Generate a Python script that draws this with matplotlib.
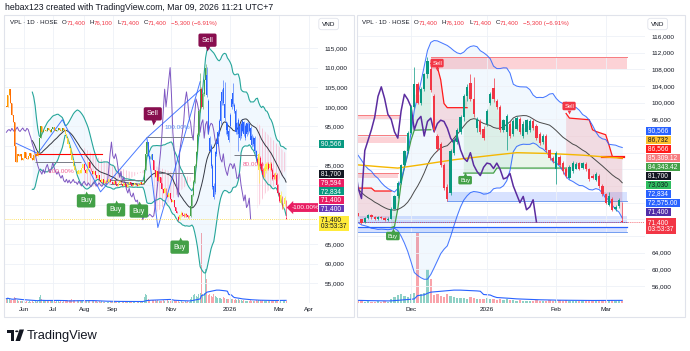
import numpy as np
import pandas as pd
import matplotlib
matplotlib.use("Agg")
import matplotlib.pyplot as plt
from matplotlib import transforms
from matplotlib.patches import Rectangle, Polygon, Circle

plt.rcParams['font.family'] = ['Liberation Sans', 'DejaVu Sans']
plt.rcParams['hatch.linewidth'] = 0.6

# ------------------------------------------------------------------ data
# prices in thousand VND, volume in million shares (daily bars, HOSE calendar)
holidays = ["2025-09-01", "2025-09-02", "2026-01-01", "2026-02-16", "2026-02-17",
            "2026-02-18", "2026-02-19", "2026-02-20"]

early_close = [
    100.0, 103.0, 104.5, 101.0, 98.0, 96.0,
    90.0, 86.0, 88.0,
    87.5, 88.0, 86.5, 87.0, 88.5, 87.0, 86.8, 87.5, 88.2, 87.0, 86.5, 87.8,
    88.0, 87.5, 88.5,
    92.0, 95.0, 93.5, 94.0,
    94.2, 93.8, 94.5, 94.0, 93.6, 94.3, 94.8, 94.0, 93.7, 94.2, 94.6, 94.0, 93.8, 94.5, 94.2,
    93.0, 92.0, 90.5, 89.5, 88.0, 86.5,
    85.0, 84.0, 83.5, 82.8, 84.0, 83.0, 84.5,
    85.3, 84.0, 83.2, 84.2, 85.8, 84.5, 83.5, 82.8, 83.5,
    82.5, 81.8, 82.5, 81.2, 80.8, 81.5, 80.6, 81.3, 80.5, 80.9, 81.5, 80.7,
    80.8, 80.2, 81.0, 80.4, 79.8, 80.5, 81.0, 80.3, 79.9, 80.6, 80.1, 79.6,
    80.2, 80.8, 80.3, 79.8, 80.1, 80.6, 80.0, 79.7, 80.3, 80.9, 80.2, 80.5,
    84.0, 88.0, 91.0, 87.5, 86.8, 88.0, 86.5,
    84.0, 82.0, 83.5, 81.0, 82.0,
    80.5, 79.0, 78.0, 79.2, 77.5, 77.0, 78.0, 76.5, 75.8, 76.2,
    74.5, 73.5, 72.8,
]
early_volume = [
    1.2, 1.5, 1.0, 0.9, 0.8, 0.9, 1.6, 1.4, 0.9,
    0.6, 0.5, 0.6, 0.5, 0.5, 0.4, 0.5, 0.4, 0.5, 0.4, 0.5, 0.4, 0.5, 0.4, 0.6,
    1.8, 2.2, 1.2, 0.9,
    0.7, 0.6, 0.6, 0.5, 0.5, 0.6, 0.5, 0.5, 0.4, 0.5, 0.5, 0.4, 0.5, 0.4, 0.5,
    0.7, 0.8, 0.9, 0.8, 0.9, 1.0, 0.9, 0.8, 0.7, 0.7, 0.6, 0.6, 0.6,
    0.6, 0.5, 0.6, 0.5, 0.7, 0.5, 0.6, 0.5, 0.5,
    0.5, 0.5, 0.4, 0.5, 0.4, 0.5, 0.4, 0.4, 0.5, 0.4, 0.4, 0.5,
    0.4, 0.4, 0.5, 0.4, 0.4, 0.4, 0.5, 0.4, 0.4, 0.4, 0.5, 0.4,
    0.4, 0.4, 0.4, 0.5, 0.4, 0.4, 0.4, 0.4, 0.5, 0.4, 0.4, 0.4,
    1.8, 2.6, 2.2, 1.2, 0.9, 1.0, 0.8,
    0.8, 0.9, 0.7, 0.8, 0.7,
    0.6, 0.7, 0.8, 0.6, 0.7, 0.8, 0.6, 0.7, 0.8, 0.7,
    0.8, 0.7, 0.6,
]

# from 2025-11-10 to 2026-03-09
recent_open = [
    72.0, 71.3, 72.3, 73.0, 72.5, 72.1, 72.6, 72.3, 71.8, 72.2,
    74.6, 77.5, 80.8, 85.0, 88.5, 92.8, 99.0, 104.5, 100.0, 103.2,
    106.8, 108.0, 101.5, 92.0, 90.0, 85.0, 79.8, 78.3, 88.0, 90.5,
    93.0, 96.5, 101.5, 104.8, 100.8, 94.0, 95.5, 93.8, 95.0, 100.0,
    103.5, 100.5, 99.0, 93.5, 93.0, 95.0, 92.5, 93.8, 96.0, 92.0,
    93.0, 93.5, 95.5, 94.5, 92.5, 90.5, 92.0, 88.7, 86.8, 84.0,
    87.0, 85.5, 84.0, 82.0, 83.5, 84.2, 85.5, 84.3, 85.4, 84.0,
    82.5, 81.5, 82.5, 80.0, 78.0, 75.5, 77.0, 74.5, 75.1, 71.4,
]
recent_high = [
    72.2, 72.6, 73.4, 73.2, 72.9, 72.8, 72.9, 72.5, 72.5, 75.0,
    77.8, 81.2, 85.3, 88.7, 93.2, 99.5, 108.5, 105.0, 103.8, 107.2,
    111.0, 110.2, 102.0, 92.5, 90.5, 85.5, 80.5, 88.8, 91.5, 94.0,
    97.0, 102.0, 104.5, 106.8, 106.2, 96.5, 96.0, 94.5, 98.5, 102.5,
    106.0, 101.0, 99.5, 96.2, 97.2, 95.5, 96.0, 96.8, 96.5, 95.5,
    96.2, 96.0, 96.0, 95.0, 93.0, 92.5, 92.5, 89.0, 87.2, 88.5,
    87.5, 86.0, 84.5, 85.0, 86.0, 85.8, 85.8, 85.8, 85.8, 84.3,
    83.0, 83.4, 83.0, 80.4, 78.3, 78.5, 77.3, 75.5, 77.2, 76.1,
]
recent_low = [
    70.8, 71.1, 72.0, 72.2, 71.8, 71.9, 72.0, 71.6, 71.5, 72.0,
    74.4, 77.2, 80.5, 84.6, 88.0, 92.5, 98.8, 99.6, 99.5, 102.8,
    106.0, 102.5, 93.0, 88.5, 84.5, 79.0, 76.5, 77.8, 87.5, 90.0,
    92.5, 95.5, 100.5, 100.5, 96.5, 93.0, 92.5, 91.0, 94.5, 99.5,
    100.2, 98.5, 93.0, 93.0, 88.7, 91.5, 92.0, 93.5, 92.5, 91.5,
    92.5, 93.0, 93.5, 91.0, 89.8, 90.0, 88.2, 86.3, 85.5, 80.5,
    84.5, 83.0, 82.0, 81.8, 83.2, 84.0, 83.8, 84.0, 83.6, 81.3,
    81.6, 81.2, 79.6, 77.6, 75.6, 75.2, 73.9, 74.0, 74.8, 71.4,
]
recent_close = [
    71.2, 72.4, 73.0, 72.5, 72.1, 72.6, 72.3, 71.9, 72.2, 74.6,
    77.5, 80.8, 85.0, 88.5, 92.8, 99.0, 104.5, 100.0, 103.2, 106.8,
    110.0, 103.0, 93.5, 88.8, 85.0, 79.5, 77.0, 88.5, 91.0, 93.5,
    96.5, 101.5, 103.8, 101.0, 97.2, 96.0, 93.0, 91.5, 98.0, 102.0,
    100.8, 99.0, 93.5, 95.8, 96.7, 92.0, 95.5, 96.3, 93.0, 95.0,
    95.8, 95.5, 93.9, 91.5, 90.3, 92.0, 88.7, 86.7, 85.9, 88.0,
    85.0, 83.5, 82.5, 84.5, 85.5, 85.3, 84.2, 85.5, 84.0, 81.7,
    82.0, 83.0, 80.0, 78.0, 76.0, 77.5, 74.3, 75.0, 76.7, 71.4,
]
recent_volume = [
    0.5, 0.4, 0.5, 0.4, 0.4, 0.5, 0.4, 0.5, 0.4,
    1.2, 1.8, 2.2, 2.6, 2.0, 1.8, 2.5,
    2.8, 19.5, 2.5, 2.8, 9.4, 6.7,
    2.2, 2.5, 2.0, 1.8, 2.4, 2.0, 1.6, 1.4, 1.5,
    1.3, 1.2, 1.6, 1.5, 1.1, 1.0, 1.2, 1.3, 1.1, 1.2, 0.9, 1.1, 0.9, 1.0, 0.8,
    0.8, 0.7, 0.8, 0.7, 0.7, 0.6, 0.7, 0.8, 0.7, 0.6, 0.7, 0.8, 0.7, 0.9, 0.8, 0.7,
    0.8, 0.7, 0.6, 0.6, 0.7, 0.6, 0.7, 0.8, 0.7, 0.7, 0.8, 0.9, 0.8, 0.9, 0.8, 0.7,
    0.8, 0.696,
]

left_month_starts = ["2025-06-01", "2025-07-01", "2025-08-01", "2025-09-01",
                     "2025-11-01", "2026-01-01", "2026-03-01", "2026-04-01"]
left_month_labels = ["Jun", "Jul", "Aug", "Sep", "Nov", "2026", "Mar", "Apr"]
right_month_starts = ["2025-12-01", "2026-01-01", "2026-02-01", "2026-03-01"]
right_month_labels = ["Dec", "2026", "Feb", "Mar"]
left_yticks = list(range(55, 116, 5))
right_yticks = list(range(56, 117, 4))

# left panel drawings (bar index from 2025-05-14)
left_zz_x = [7, 23, 41, 69, 103, 111, 142]
left_zz_y = [90.7, 88.1, 96.7, 78.3, 92.1, 69.2, 106.4]
left_fib_x = [103, 142]
left_fib_y = [92.1, 104.3]
left_gray_x0 = [21, 76, 76, 103, 110, 167]
left_gray_x1 = [55, 101, 101, 137, 137, 184]
left_gray_y = [86.0, 81.3, 80.2, 92.4, 83.0, 87.8]
left_red_x = [21, 70]
left_red_y = [87.9, 87.9]
left_pink_top_x = [[57, 65, 75, 90, 101], [108, 120, 135], [184, 190, 197, 205]]
left_pink_top_y = [[89.5, 87.5, 85.5, 83.5, 83.0], [85.0, 83.5, 82.0], [96.0, 93.5, 91.0, 88.0]]
left_pink_bot_y = [[84.0, 81.5, 80.0, 79.5, 80.0], [81.0, 76.0, 72.5], [84.0, 80.0, 78.0, 74.0]]
left_pct_texts = ["100.00%", "-100.00%", "80.00%"]
left_pct_x = [125, 40, 181]
left_pct_y = [94.8, 83.4, 85.2]
left_sell_x = [147.4, 107.3]
left_sell_y = [117.0, 98.2]
left_buy_x = [58.4, 80.3, 97.1, 127.0]
left_buy_y = [76.0, 73.7, 73.4, 64.2]
left_label_texts = ["71,400", "71,400", "72,834", "79,594", "81,700", "90,566"]
left_label_values = [71.4, 71.4, 72.834, 79.594, 81.7, 90.566]
left_countdown = "03:53:37"

# right panel drawings (bar index from 2025-11-10)
right_orange_x = [-3, 6, 11, 18, 28, 40, 47, 57, 67, 75, 79]
right_orange_y = [85.2, 84.6, 84.3, 85.1, 86.3, 87.4, 88.0, 87.8, 87.4, 86.9, 86.7]
right_red_lines_x = [[-3, 3, 4, 9], [21, 23, 24, 25, 26, 32],
                     [62, 63, 69, 70, 71, 74, 75, 76, 79]]
right_red_lines_y = [[79.5, 79.5, 78.8, 78.8], [109.4, 108.5, 105.5, 99.8, 98.8, 98.8],
                     [97.4, 96.3, 95.9, 93.5, 93.1, 92.3, 89.8, 87.1, 86.6]]
right_green_lines_x = [[9, 10, 11, 12, 13, 14, 15, 16, 21], [31, 40, 41, 62]]
right_green_lines_y = [[70.0, 70.3, 74.5, 80.6, 84.5, 87.5, 91.0, 93.4, 93.5],
                       [83.1, 83.1, 84.3, 84.3]]
right_red_zone_x = [[21, 80.5], [-3, 11.7], [-3, 13.6], [-3, 11.0]]
right_red_zone_y = [[108.0, 111.0], [96.1, 97.0], [90.4, 92.2], [81.9, 83.1]]
right_blue_zone_x = [[26, 80.5], [-3, 80.5], [-3, 80.5]]
right_blue_zone_y = [[76.5, 78.6], [71.3, 72.8], [68.9, 70.1]]
right_short_red_x = [73, 79.5]
right_short_red_y = [86.9, 86.9]
right_sell_x = [22.9, 62.9]
right_sell_y = [109.5, 99.2]
right_buy_x = [31.4, 9.5]
right_buy_y = [81.4, 68.0]
right_label_texts = ["71,400", "72,575.00", "72,834", "73,030", "81,700",
                     "84,343.42", "85,309.12", "86,566", "86,732", "90,566"]
right_label_values = [71.4, 72.575, 72.834, 73.03, 81.7, 84.34342, 85.30912,
                      86.566, 86.732, 90.566]
right_countdown = "03:53:37"

# ------------------------------------------------------------------ build series
early_open = [early_close[0]] + early_close[:-1]
early_high = [max(a, b) for a, b in zip(early_open, early_close)]
early_low = [min(a, b) for a, b in zip(early_open, early_close)]
O = np.array(early_open + recent_open)
Hi = np.array(early_high + recent_high)
Lo = np.array(early_low + recent_low)
C = np.array(early_close + recent_close)
V = np.array(early_volume + recent_volume)
N = len(C)
NE = len(early_close)
idx = np.arange(N)

days = pd.bdate_range("2025-05-14", "2026-04-30")
days = days[~days.isin(pd.to_datetime(holidays))]


def pos_of(d):
    return int(np.searchsorted(days.values, np.datetime64(d)))


cs = pd.Series(C)
bb_mid = cs.rolling(20).mean().values
bb_sd = cs.rolling(20).std(ddof=0).values
bb_up = bb_mid + 2 * bb_sd
bb_lo = bb_mid - 2 * bb_sd
vol_ma = pd.Series(V).rolling(20, min_periods=1).mean().values

# ------------------------------------------------------------------ figure
W, H = 690, 351
fig = plt.figure(figsize=(W / 100, H / 100), dpi=100)
fig.patch.set_facecolor("white")
DARK = "#131722"
RED = "#f23645"
FS = 4.6
LFS = 4.8


def add_axes_px(x0, y0, x1, y1):
    return fig.add_axes([x0 / W, 1 - y1 / H, (x1 - x0) / W, (y1 - y0) / H])


for (x0, x1) in [(4, 354), (357, 685)]:
    fig.patches.append(Rectangle((x0 / W, 1 - 317 / H), (x1 - x0) / W, (317 - 15) / H,
                                 transform=fig.transFigure, fill=False,
                                 ec="#e0e3eb", lw=0.8))

fig.text(5 / W, 1 - 7 / H, "hebax123 created with TradingView.com, Mar 09, 2026 11:21 UTC+7",
         fontsize=6.3, color=DARK, va="center", ha="left")

# TradingView logo
fig.patches.append(Rectangle((7 / W, 1 - 333 / H), 7 / W, 3.5 / H, transform=fig.transFigure,
                             fc=DARK, ec="none"))
fig.patches.append(Rectangle((10.5 / W, 1 - 341 / H), 3.5 / W, 10 / H, transform=fig.transFigure,
                             fc=DARK, ec="none"))
fig.patches.append(Circle((16.8 / W, 1 - 331.3 / H), 1.7 / W, transform=fig.transFigure,
                          fc=DARK, ec="none"))
fig.patches.append(Polygon([(19.5 / W, 1 - 329.5 / H), (24 / W, 1 - 329.5 / H),
                            (20 / W, 1 - 341 / H), (15.5 / W, 1 - 341 / H)],
                           closed=True, transform=fig.transFigure, fc=DARK, ec="none"))
fig.text(27 / W, 1 - 335.5 / H, "TradingView", fontsize=9.3, color=DARK, va="center",
         ha="left", fontweight="medium")


def make_panel(x0, x1, ylim, xlim, yticks, mstarts, mlabels, xoff):
    ax = add_axes_px(x0, 15, x1, 303)
    axv = ax.twinx()
    axv.set_ylim(0, 80.8)
    axv.set_yticks([])
    for s in axv.spines.values():
        s.set_visible(False)
    axv.set_zorder(0)
    ax.set_zorder(1)
    ax.patch.set_visible(False)
    ax.set_xlim(*xlim)
    ax.set_ylim(*ylim)
    ax.yaxis.tick_right()
    ax.set_yticks(yticks)
    ax.set_xticks([pos_of(d) - xoff for d in mstarts])
    ax.set_xticklabels(mlabels)
    ax.tick_params(axis="both", length=0, labelsize=FS, colors=DARK)
    ax.tick_params(axis="y", pad=5)
    ax.tick_params(axis="x", pad=3)
    ax.grid(True, color="#eef1f7", lw=0.6)
    for s in ax.spines.values():
        s.set_visible(False)
    return ax, axv


def draw_candles(ax, x, ucols, dcols, width, wlw, minh):
    up = C > O
    cols = [u if k else d for k, u, d in zip(up, ucols, dcols)]
    ax.vlines(x, Lo, Hi, colors=cols, lw=wlw, zorder=6)
    bottom = np.minimum(O, C)
    height = np.maximum(np.abs(C - O), minh)
    ax.bar(x, height, width, bottom=bottom, color=cols, lw=0, zorder=6)


def draw_volume(axv, x, width):
    up = C > O
    cols = [(8 / 255, 153 / 255, 129 / 255, 0.45) if k else (242 / 255, 54 / 255, 69 / 255, 0.45)
            for k in up]
    axv.bar(x, V, width, color=cols, lw=0)
    axv.plot(x, vol_ma, color="#2962ff", lw=0.8)


def legend(ax, xpx, ypx):
    o, h, l, c = recent_open[-1], recent_high[-1], recent_low[-1], recent_close[-1]
    ch = c - recent_close[-2]
    pct = ch / recent_close[-2] * 100
    fmt = lambda v: f"{v * 1000:,.0f}"
    parts = [("VPL · 1D · HOSE", DARK, 0), ("O", DARK, 3.0), (fmt(o), RED, 0),
             ("H", DARK, 3.0), (fmt(h), RED, 0), ("L", DARK, 3.0), (fmt(l), RED, 0),
             ("C", DARK, 3.0), (fmt(c), RED, 0),
             (f"{'−' if ch < 0 else '+'}{fmt(abs(ch))} ({'−' if ch < 0 else '+'}{abs(pct):.2f}%)", RED, 3.0)]
    t = fig.text(xpx / W, 1 - ypx / H, parts[0][0], color=parts[0][1], fontsize=4.4,
                 va="center", ha="left", zorder=10)
    for s, col, gap in parts[1:]:
        t = ax.annotate(s, xy=(1, 0.5), xycoords=t, xytext=(gap, 0), textcoords="offset points",
                        color=col, fontsize=4.4, va="center", ha="left", annotation_clip=False,
                        zorder=10)


def vnd_box(xpx):
    fig.text(xpx / W, 1 - 24 / H, "VND", fontsize=FS, color=DARK, va="center", ha="left",
             bbox=dict(boxstyle="round,pad=0.5,rounding_size=0.4", fc="white", ec="#e0e3eb",
                       lw=0.6), zorder=10)


def price_labels(ax, yticks, texts, values, bgs, fgs, main_val, main_bg, main_fg, countdown,
                 first_gap, spacing):
    y0, y1 = ax.get_ylim()
    bb = ax.get_position()
    ppu = bb.height * H / (y1 - y0)
    xa = 1 + 1.5 / (bb.width * W)
    tr = transforms.blended_transform_factory(ax.transAxes, ax.transData)
    box = dict(boxstyle="square,pad=0.06")
    mc = main_val - 4.3 / ppu
    ax.text(xa, mc, f" {main_val * 1000:,.0f} \n {countdown} ", transform=tr,
            fontsize=LFS, color=main_fg, ha="left", va="center", linespacing=1.1,
            clip_on=False, zorder=12, bbox=dict(box, fc=main_bg, ec="none"))
    spans = [(mc - 9.0 / ppu, mc + 9.0 / ppu)]
    cur = main_val + (first_gap - spacing) / ppu
    for t, v, bg, fg in zip(texts, values, bgs, fgs):
        c = max(v, cur + spacing / ppu)
        ax.text(xa, c, f" {t} ", transform=tr, fontsize=LFS, color=fg, ha="left", va="center",
                clip_on=False, zorder=12, bbox=dict(box, fc=bg, ec="none"))
        spans.append((c - 4.5 / ppu, c + 4.5 / ppu))
        cur = c
    # hide price-scale ticks covered by the labels (as the price scale does)
    margin = 3.0 / ppu
    labs = []
    for v in yticks:
        hidden = any(a - margin < v < b + margin for a, b in spans)
        labs.append("" if hidden else f"{int(round(v * 1000)):,}")
    ax.set_yticklabels(labs)


def signal(ax, x, y, text, color, fs, pad, up, off_pt, ms):
    ax.text(x, y, text, fontsize=fs, color="white", ha="center", va="center", zorder=9,
            bbox=dict(boxstyle=f"round,pad={pad},rounding_size=0.25", fc=color, ec="none"))
    tr = transforms.offset_copy(ax.transData, fig=fig, x=0, y=(off_pt if up else -off_pt),
                                units="points")
    ax.plot([x], [y], marker="^" if up else "v", ms=ms, color=color, mec="none",
            transform=tr, zorder=9)


# ------------------------------------------------------------------ left panel
L_REF, L_PX, L_SC = 115.0, 48.0, 3.92
ylimL = (L_REF - (303 - L_PX) / L_SC, L_REF + (L_PX - 15) / L_SC)
axL, axLv = make_panel(5, 318, ylimL, (-1.03, 228.4), left_yticks,
                       left_month_starts, left_month_labels, 0)

left_color_segments = [(0, 23, "#ff9800", "#ff6d00"), (24, 42, "#43a047", "#ff9800"),
                       (43, 55, "#ffeb3b", "#fdd835"), (56, 100, "#ffeb3b", "#ff1744"),
                       (101, 107, "#43a047", "#2962ff"), (108, 134, "#ffeb3b", "#ff1744"),
                       (135, 146, "#43a047", "#ff1744"), (147, 183, "#2962ff", "#2962ff"),
                       (184, N - 1, "#ffeb3b", "#ff1744")]
ucL, dcL = [None] * N, [None] * N
for a, b, u, d in left_color_segments:
    for i in range(a, b + 1):
        ucL[i], dcL[i] = u, d

axL.fill_between(idx, bb_lo, bb_up, color="#2196f3", alpha=0.06, lw=0, zorder=1)
for tx, ty, by in zip(left_pink_top_x, left_pink_top_y, left_pink_bot_y):
    pts = list(zip(tx, ty)) + list(zip(tx[::-1], by))
    axL.add_patch(Polygon(pts, closed=True, fill=False, hatch="||||||", ec="#f8bbd0",
                          lw=0, zorder=2))
axL.plot(idx, bb_up, color="#26a69a", lw=0.8, zorder=3)
axL.plot(idx, bb_lo, color="#26a69a", lw=0.8, zorder=3)
axL.plot(idx, bb_mid, color=DARK, lw=0.7, alpha=0.85, zorder=3)
axL.plot(idx[:-26], C[26:], color="#7e57c2", lw=0.7, zorder=3)
axL.plot(left_zz_x, left_zz_y, color="#2962ff", lw=0.7, alpha=0.85, zorder=3)
axL.plot(left_fib_x, left_fib_y, color="#2962ff", lw=0.7, alpha=0.85, zorder=3)
axL.hlines(left_gray_y, left_gray_x0, left_gray_x1, color="#787b86", lw=0.7, zorder=3)
axL.plot(left_red_x, left_red_y, color="#ff0000", lw=0.8, zorder=3)
axL.axhline(C[-1], color="#fdd835", lw=0.6, ls=(0, (1, 1.5)), zorder=3)
for t, x, y in zip(left_pct_texts, left_pct_x, left_pct_y):
    axL.text(x, y, t, fontsize=4.6, ha="center", va="center", zorder=5,
             color="#5b8def" if t.startswith("1") else "#f06292")
draw_candles(axL, idx, ucL, dcL, 0.7, 0.4, 0.12)
draw_volume(axLv, idx, 0.7)
for x, y in zip(left_sell_x, left_sell_y):
    signal(axL, x, y, "Sell", "#880e4f", 5.0, 0.45, False, 6.0, 3.6)
for x, y in zip(left_buy_x, left_buy_y):
    signal(axL, x, y, "Buy", "#43a047", 5.0, 0.45, True, 6.0, 3.6)
axL.text(209, 74.3, "-100.00%", fontsize=FS, color="white", ha="left", va="center",
         clip_on=True, zorder=11,
         bbox=dict(boxstyle="larrow,pad=0.3", fc="#e91e63", ec="none"))
legend(axL, 10, 23)
vnd_box(322)
price_labels(axL, left_yticks, left_label_texts, left_label_values,
             ["#673ab7", "#e91e63", "#089981", "#e91e63", DARK, "#089981"],
             ["white"] * 6, C[-1], "#ffeb3b", DARK, left_countdown, 10.5, 8.6)

# ------------------------------------------------------------------ right panel
R_REF, R_PX, R_SC = 116.0, 36.0, 4.167
ylimR = (R_REF - (303 - R_PX) / R_SC, R_REF + (R_PX - 15) / R_SC)
axR, axRv = make_panel(357, 645, ylimR, (-1.36, 85.9), right_yticks,
                       right_month_starts, right_month_labels, NE)
xR = idx - NE
mids = (O + C) / 2

axR.fill_between(xR, bb_lo, bb_up, color="#2196f3", alpha=0.06, lw=0, zorder=1)
for (xa_, xb_), (ya_, yb_) in zip(right_red_zone_x, right_red_zone_y):
    axR.add_patch(Rectangle((xa_, ya_), xb_ - xa_, yb_ - ya_, fc=(242 / 255, 54 / 255, 69 / 255, 0.22),
                            ec="none", zorder=1.5))
    axR.plot([xa_, xb_], [yb_, yb_], color="#f77c80", lw=0.7, zorder=1.6)
for (xa_, xb_), (ya_, yb_) in zip(right_blue_zone_x, right_blue_zone_y):
    axR.add_patch(Rectangle((xa_, ya_), xb_ - xa_, yb_ - ya_, fc=(41 / 255, 98 / 255, 255 / 255, 0.18),
                            ec="none", zorder=1.5))
    axR.plot([xa_, xb_], [ya_, ya_], color="#5b8def", lw=0.6, zorder=1.6)
axR.plot(right_blue_zone_x[2], [right_blue_zone_y[2][1]] * 2, color="#2962ff", lw=0.9, zorder=1.7)


def trend_fill(ax, lx, ly, color, alpha):
    bars = [b for b in range(int(np.ceil(lx[0])), int(np.floor(lx[-1])) + 1) if b >= -NE]
    pts = list(zip(lx, ly)) + [(b, mids[b + NE]) for b in bars[::-1]]
    ax.add_patch(Polygon(pts, closed=True, fc=color, alpha=alpha, ec="none", zorder=1.8))


for lx, ly in zip(right_red_lines_x, right_red_lines_y):
    trend_fill(axR, lx, ly, "#f23645", 0.15)
    axR.plot(lx, ly, color="#ff1a1a", lw=0.9, zorder=3)
for lx, ly in zip(right_green_lines_x, right_green_lines_y):
    trend_fill(axR, lx, ly, "#4caf50", 0.12)
    axR.plot(lx, ly, color="#43a047", lw=0.9, zorder=3)
axR.plot(right_short_red_x, right_short_red_y, color="#ff1a1a", lw=1.6, zorder=3)
axR.plot(xR, bb_up, color="#2962ff", lw=0.75, alpha=0.85, zorder=3)
axR.plot(xR, bb_lo, color="#2962ff", lw=0.75, alpha=0.85, zorder=3)
axR.plot(xR, bb_mid, color="#4a4a4a", lw=0.7, zorder=3)
axR.plot(right_orange_x, right_orange_y, color="#f5b700", lw=1.0, zorder=3)
axR.plot(xR[:-26], C[26:], color="#5b2c9f", lw=1.1, zorder=3)
axR.axhline(C[-1], color=RED, lw=0.6, ls=(0, (1, 1.5)), zorder=3)
draw_candles(axR, xR, ["#089981"] * N, [RED] * N, 0.7, 0.5, 0.12)
draw_volume(axRv, xR, 0.7)
for x, y in zip(right_sell_x, right_sell_y):
    signal(axR, x, y, "Sell", RED, 4.2, 0.3, False, 4.3, 2.8)
for x, y in zip(right_buy_x, right_buy_y):
    signal(axR, x, y, "Buy", "#43a047", 4.2, 0.3, True, 4.3, 2.8)
legend(axR, 362, 23)
vnd_box(651)
price_labels(axR, right_yticks, right_label_texts, right_label_values,
             ["#512da8", "#2962ff", "#2962ff", "#2ebd5f", DARK, "#43a047", "#f77c80",
              "#ff1a1a", "#fbc02d", "#2962ff"],
             ["white", "white", "white", DARK, "white", "white", "white", "white", DARK, "white"],
             C[-1], RED, "white", right_countdown, 10.0, 9.0)

fig.savefig("out.png", dpi=100, facecolor="white")
